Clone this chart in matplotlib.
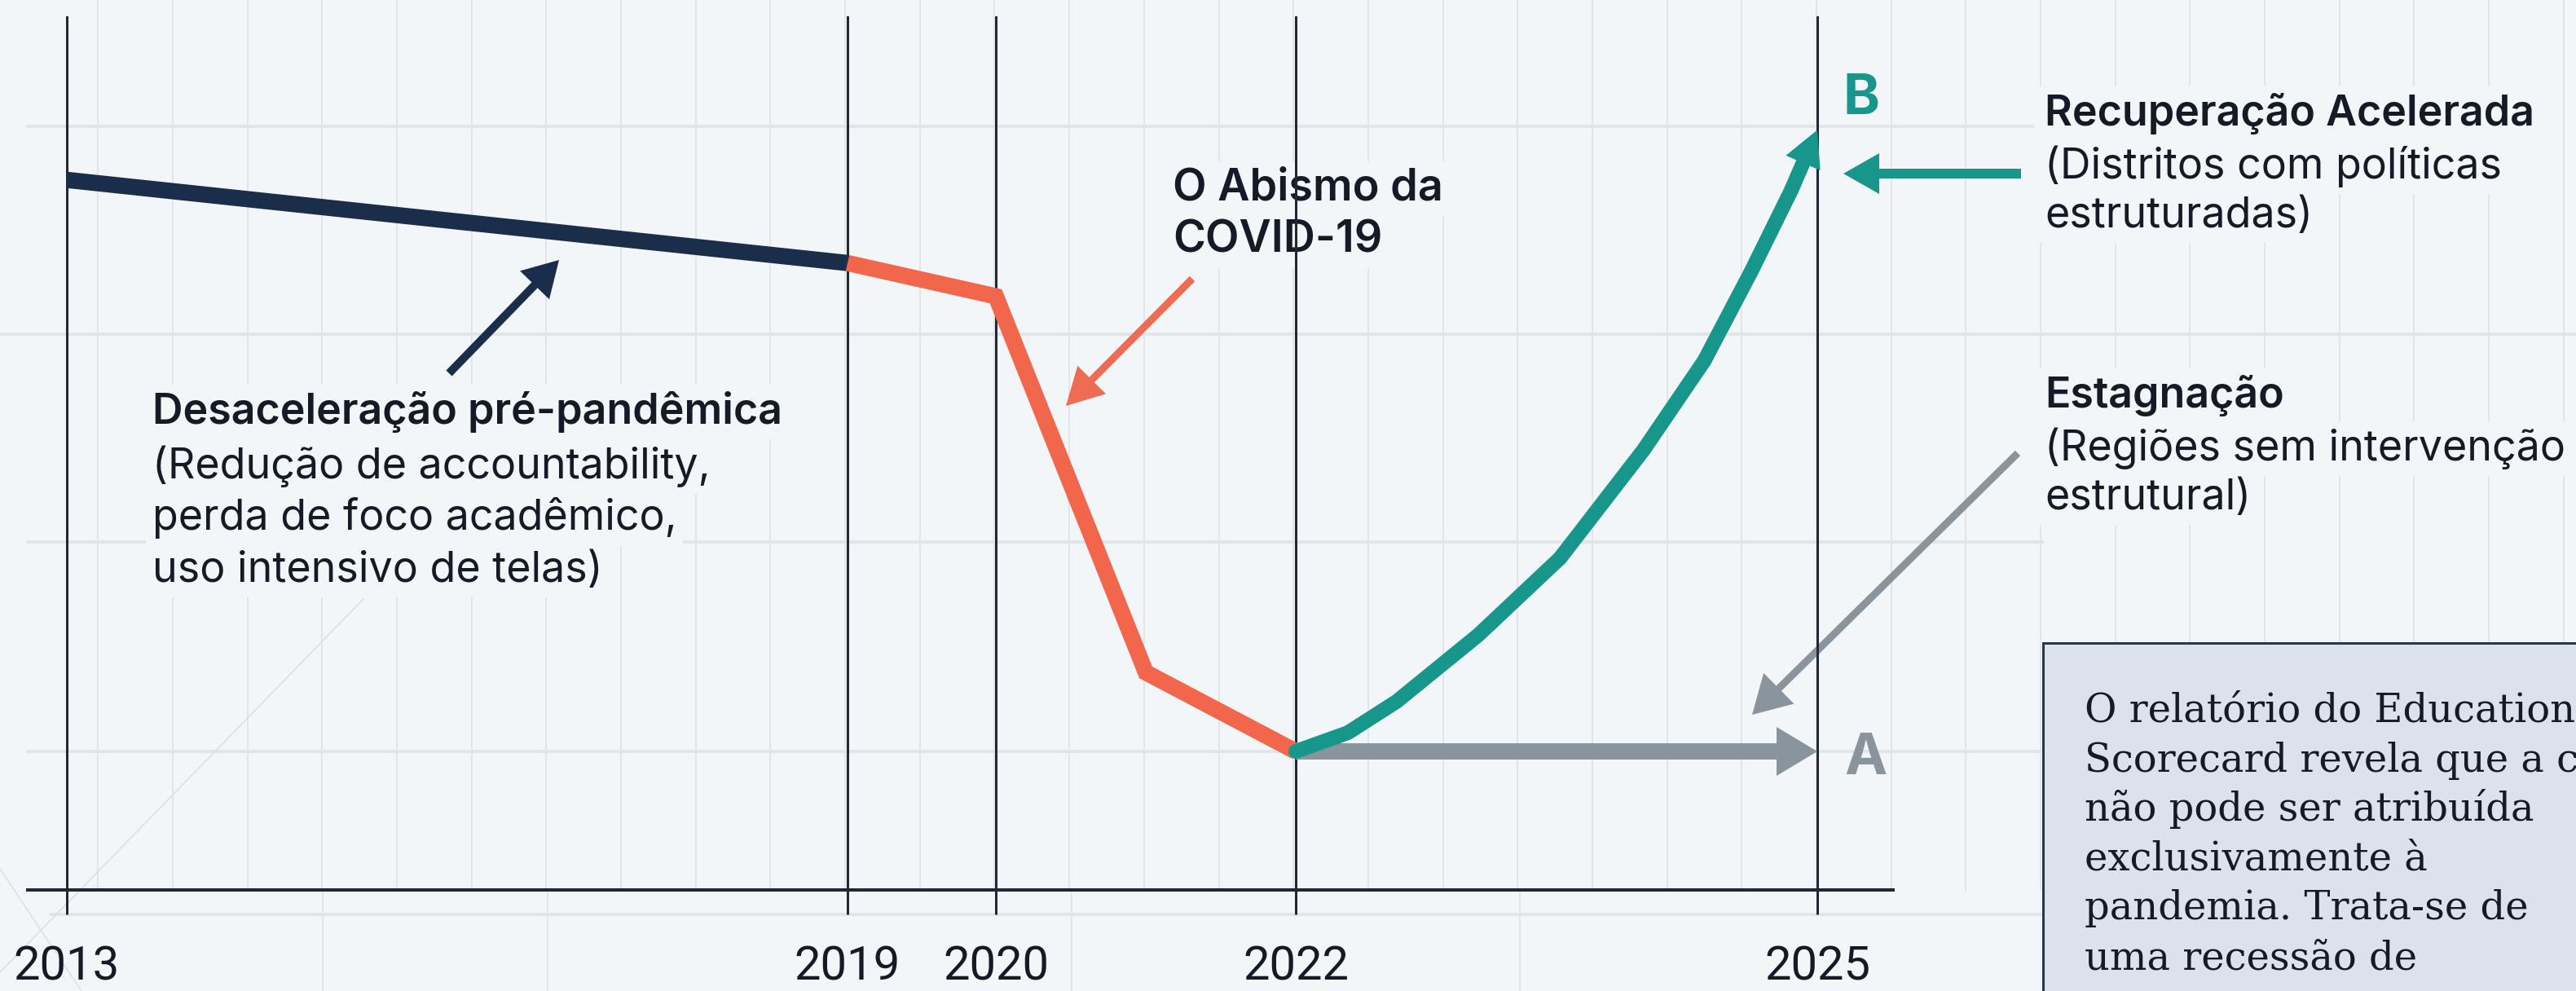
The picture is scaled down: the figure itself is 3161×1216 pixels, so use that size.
import matplotlib
matplotlib.use('Agg')
import matplotlib.pyplot as plt
from matplotlib.patches import FancyArrowPatch, Rectangle
import numpy as np

W, H, DPI = 3161, 1216, 100
PT = 72 / DPI  # px -> pt

# dados (índice de desempenho, unidades arbitrárias)
anos_marcos = [2013, 2019, 2020, 2022, 2025]
rotulos_anos = ['2013', '2019', '2020', '2022', '2025']

pre_anos = [2013, 2019]
pre_valores = [3.75, 3.35]

covid_anos = [2019, 2020, 2021, 2022]
covid_valores = [3.35, 3.19, 1.38, 1.0]

recuperacao_anos = [2022.0, 2022.3, 2022.58, 2023.05, 2023.52, 2024.0, 2024.35, 2024.62, 2024.85, 2025.0]
recuperacao_valores = [1.0, 1.09, 1.24, 1.56, 1.93, 2.45, 2.88, 3.31, 3.70, 3.99]

estagnacao_anos = [2022, 2025]
estagnacao_valores = [1.0, 1.0]

# cores
BG = '#F3F6F9'
GRID = '#E1E5EA'
LINE = '#1E2838'
NAVY = '#1A2E4C'
CORAL = '#F2664B'
CORAL_SETA = '#EE6B54'
TEAL = '#17968B'
GRAY = '#8A949D'
TXT = '#141B27'

# eixo x não linear: posição em pixels de cada ano marcado
px_marcos = [82, 1040, 1222, 1590, 2230]
s0 = (px_marcos[1] - px_marcos[0]) / (anos_marcos[1] - anos_marcos[0])
s1 = (px_marcos[-1] - px_marcos[-2]) / (anos_marcos[-1] - anos_marcos[-2])
anos_ext = [anos_marcos[0] - 50] + anos_marcos + [anos_marcos[-1] + 50]
px_ext = [px_marcos[0] - 50 * s0] + px_marcos + [px_marcos[-1] + 50 * s1]


def fwd(x):
    return np.interp(x, anos_ext, px_ext)


def inv(p):
    return np.interp(p, px_ext, anos_ext)


fig = plt.figure(figsize=(W / DPI, H / DPI), dpi=DPI, facecolor=BG)

# fundo em coordenadas de pixel: grade clara, textos, setas de anotação
ax_bg = fig.add_axes([0, 0, 1, 1], zorder=0)
ax_bg.set_xlim(0, W)
ax_bg.set_ylim(H, 0)
ax_bg.axis('off')
ax_bg.set_facecolor(BG)

grade_x = 212 + 91.68 * np.arange(-1, 33)
for gx in grade_x:
    ax_bg.plot([gx, gx], [0, 1092], color=GRID, lw=2 * PT, zorder=0)
for gx in [396, 672, 1315, 1865]:
    ax_bg.plot([gx, gx], [1092, H], color=GRID, lw=2 * PT, zorder=0)
for gy, x0, x1 in [(155, 34, 2494), (410, 0, W), (665, 34, 2506), (922, 34, 2506), (1122, 63, 2506)]:
    ax_bg.plot([x0, x1], [gy, gy], color=GRID, lw=4 * PT, zorder=0)
ax_bg.plot([446, 0], [735, 1193], color='#D9DEE4', lw=1.5 * PT, zorder=0)
ax_bg.plot([0, 100], [1066, 1216], color='#D9DEE4', lw=1.5 * PT, zorder=0)


def texto(x, y, s, peso='normal', tam=52, cor=TXT, fam='Inter', halo=True):
    kw = {}
    if halo:
        kw['bbox'] = dict(boxstyle='square,pad=0.15', fc=BG, ec='none')
    ax_bg.text(x, y, s, fontsize=tam * PT, fontweight=peso, color=cor, family=fam,
               ha='left', va='baseline', zorder=5, **kw)


def seta(ax, cauda, ponta, cor, haste, larg, comp, z=4):
    estilo = f'simple,head_length={comp * PT},head_width={larg * PT},tail_width={haste * PT}'
    ax.add_patch(FancyArrowPatch(cauda, ponta, arrowstyle=estilo, mutation_scale=1,
                                 color=cor, lw=0, shrinkA=0, shrinkB=0, zorder=z))


# textos da esquerda
texto(187, 520, 'Desaceleração pré-pandêmica', peso='semibold')
texto(187, 587, '(Redução de accountability,')
texto(187, 650, 'perda de foco acadêmico,')
texto(187, 714, 'uso intensivo de telas)')
seta(ax_bg, (551, 458), (686, 319), NAVY, 10, 50, 43)

texto(1439, 246, 'O Abismo da', peso='semibold', tam=54)
texto(1439, 310, 'COVID-19', peso='semibold', tam=54)
seta(ax_bg, (1463, 342), (1308, 498), CORAL_SETA, 9, 49, 45)

# textos da direita
texto(2509, 154, 'Recuperação Acelerada', peso='semibold')
texto(2509, 219, '(Distritos com políticas')
texto(2509, 279, 'estruturadas)')
seta(ax_bg, (2480, 213), (2262, 213), TEAL, 12, 50, 44)

texto(2509, 500, 'Estagnação', peso='semibold')
texto(2509, 565, '(Regiões sem intervenção')
texto(2509, 625, 'estrutural)')
seta(ax_bg, (2476, 556), (2150, 877), GRAY, 9, 53, 46)

texto(2261, 140, 'B', peso='bold', tam=68, cor=TEAL, halo=False)
texto(2263, 950, 'A', peso='bold', tam=70, cor=GRAY, halo=False)

# caixa de citação
ax_bg.add_patch(Rectangle((2507, 789), 800, 600, fc='#DCE2EB', ec='#2A3547', lw=3 * PT, zorder=6))
linhas_caixa = ['O relatório do Education',
                'Scorecard revela que a crise',
                'não pode ser atribuída',
                'exclusivamente à',
                'pandemia. Trata-se de',
                'uma recessão de']
for i, linha in enumerate(linhas_caixa):
    ax_bg.text(2558, 886 + 60.6 * i, linha, fontsize=48 * PT, family='DejaVu Serif',
               color=TXT, ha='left', va='baseline', zorder=7)

# eixo de dados
ax = fig.add_axes([34 / W, (H - 1092) / H, (2323 - 34) / W, (1092 - 20) / H], zorder=1)
ax.patch.set_alpha(0)
ax.set_xscale('function', functions=(fwd, inv))
ax.set_xlim(inv(34), inv(2323))
ax.set_ylim((1177 - 1092) / 255, (1177 - 20) / 255)
ax.set_xticks(anos_marcos)
ax.set_xticklabels(rotulos_anos, family='Roboto', fontsize=58 * PT, color=TXT)
ax.minorticks_off()
ax.set_yticks([])
ax.tick_params(axis='x', direction='out', length=30 * PT, width=3 * PT, color=LINE, pad=27)
ax.grid(axis='x', color=LINE, lw=3 * PT)
ax.set_axisbelow(True)
for lado in ['top', 'left', 'right']:
    ax.spines[lado].set_visible(False)
ax.spines['bottom'].set_color(LINE)
ax.spines['bottom'].set_linewidth(4 * PT)

ax.plot(pre_anos, pre_valores, color=NAVY, lw=20 * PT, solid_capstyle='butt', zorder=3)
ax.plot(covid_anos, covid_valores, color=CORAL, lw=20 * PT, solid_capstyle='butt',
        solid_joinstyle='miter', zorder=3)
seta(ax, (estagnacao_anos[0], estagnacao_valores[0]), (estagnacao_anos[-1], estagnacao_valores[-1]),
     GRAY, 20, 60, 50, z=3)
ax.plot(recuperacao_anos[:-1], recuperacao_valores[:-1], color=TEAL, lw=18 * PT,
        solid_capstyle='round', solid_joinstyle='round', zorder=4)
seta(ax, (recuperacao_anos[-2], recuperacao_valores[-2]), (recuperacao_anos[-1], recuperacao_valores[-1]),
     TEAL, 18, 46, 44, z=4)

fig.savefig('out.png', dpi=DPI, facecolor=BG)
